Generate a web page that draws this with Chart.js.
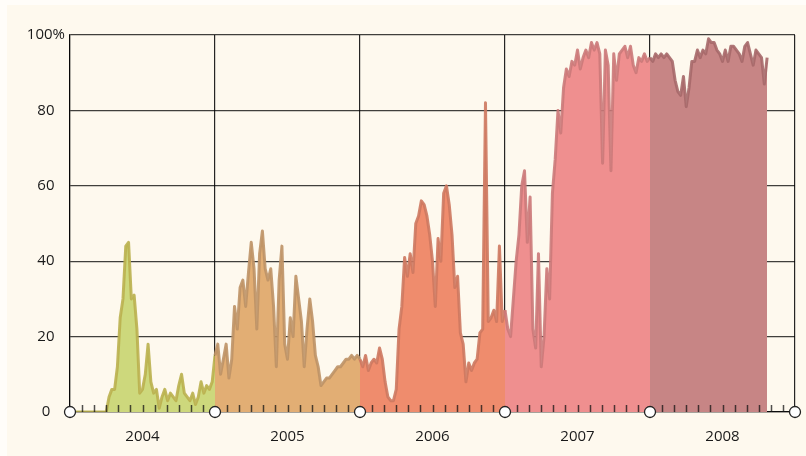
<!DOCTYPE html>
<html><head><meta charset="utf-8">
<script src="https://cdn.jsdelivr.net/npm/chart.js@4"></script>
<style>
html,body{margin:0;padding:0;background:#fffdf9;}
#card{position:absolute;left:7px;top:5px;width:799px;height:451px;background:#fef9ee;}
#wrap{position:absolute;left:0;top:0;width:806px;height:456px;}
</style></head><body>
<div id="card"></div>
<div id="wrap"><canvas id="c" width="806" height="456"></canvas></div>
<script>
// Weekly readings (% of share), one list per year
const years = [2004, 2005, 2006, 2007, 2008];
const yTickValues = [0, 20, 40, 60, 80, 100];
const v2004 = [0,0,0,0,0,0,0,0,0,0,0,0,0,0,4,6,6,12,25,30,44,45,30,31,22,5,6,10,18,8,5,6,1,4,6,3,5,4,3,7,10,5,4,3,5,2,4,8,5,7,6,8];
const v2005 = [15,18,10,14,18,9,14,28,22,33,35,28,37,45,38,22,42,48,38,35,38,28,12,35,44,18,14,25,20,36,30,24,12,22,30,24,15,12,7,8,9,9,10,11,12,12,13,14,14,15,14,15];
const v2006 = [14,12,15,11,13,14,13,17,14,8,4,3,3,6,22,28,41,36,42,37,50,52,56,55,52,47,40,28,46,40,58,60,55,47,33,36,21,18,8,13,11,13,14,21,22,82,24,25,27,24,44,24];
const v2007 = [27,22,20,30,40,47,60,64,45,57,22,17,42,12,20,38,30,58,67,80,74,86,91,89,93,92,96,91,94,96,94,98,96,98,95,66,96,92,64,95,88,95,96,97,94,97,92,90,94,93,95,93];
const v2008 = [94,93,95,94,95,94,95,94,93,88,85,84,89,81,86,93,93,96,94,96,95,99,98,98,96,95,93,96,93,97,97,96,95,93,97,98,95,92,96,95,94,87,94];
const seriesValues = [v2004, v2005, v2006, v2007, v2008];
const fillColors = ['#cdd87c', '#e2ae74', '#ef8c6d', '#ef8f8f', '#c78585'];
const lineColors = ['rgba(186,176,78,0.9)', 'rgba(190,146,102,0.9)', 'rgba(205,120,95,0.9)', 'rgba(203,121,121,0.9)', 'rgba(166,104,105,0.9)'];

function points(i) {
  const yr = years[i];
  const arr = seriesValues[i].map((v, k) => ({x: yr + k / 52, y: v}));
  if (i < seriesValues.length - 1) arr.push({x: yr + 1, y: seriesValues[i + 1][0]});
  return arr;
}

const datasets = years.map((yr, i) => ({
  label: String(yr),
  data: points(i),
  backgroundColor: fillColors[i],
  borderColor: lineColors[i],
  borderWidth: 3,
  borderJoinStyle: 'round',
  fill: 'origin',
  pointRadius: 0,
  tension: 0,
  order: 5 - i
}));

const xTickValues = years.flatMap(y => [y, y + 0.5]).concat([years[years.length - 1] + 1]);
const FONT = {family: 'Open Sans', size: 15};

const axisMarks = {
  id: 'axisMarks',
  afterDraw(chart) {
    const ctx = chart.ctx, xs = chart.scales.x, ys = chart.scales.y;
    const y0 = ys.getPixelForValue(0);
    ctx.save();
    ctx.strokeStyle = 'rgba(20,20,20,0.75)';
    ctx.lineWidth = 1.5;
    for (const yr of years) {
      for (let m = 1; m < 12; m++) {
        const px = Math.round(xs.getPixelForValue(yr + m / 12)) + 0.5;
        ctx.beginPath(); ctx.moveTo(px, y0); ctx.lineTo(px, y0 - 7); ctx.stroke();
      }
    }
    const bounds = years.concat([years[years.length - 1] + 1]);
    for (const yr of bounds) {
      const px = xs.getPixelForValue(yr);
      ctx.beginPath(); ctx.arc(px, y0, 5.5, 0, Math.PI * 2);
      ctx.fillStyle = '#ffffff'; ctx.fill();
      ctx.lineWidth = 1.3; ctx.strokeStyle = '#222'; ctx.stroke();
    }
    ctx.restore();
  }
};

new Chart(document.getElementById('c'), {
  type: 'line',
  data: {datasets},
  plugins: [axisMarks],
  options: {
    responsive: false,
    animation: false,
    layout: {padding: {top: 35, right: 11, bottom: 0, left: 0}},
    plugins: {legend: {display: false}, tooltip: {enabled: false}},
    scales: {
      x: {
        type: 'linear', min: 2004, max: 2009, z: 1,
        afterBuildTicks: s => { s.ticks = xTickValues.map(v => ({value: v})); },
        afterFit: s => { s.height = 44; s.paddingLeft = 0; s.paddingRight = 0; },
        grid: {drawTicks: false, lineWidth: 1.2,
          color: c => (c.tick && c.tick.value % 1 === 0) ? 'rgba(0,0,0,0.85)' : 'rgba(0,0,0,0)'},
        border: {display: true, color: 'rgba(0,0,0,0.8)', width: 1.2},
        ticks: {autoSkip: false, maxRotation: 0, padding: 16, font: FONT, color: '#1a1a1a',
          callback: v => (v % 1 === 0.5) ? String(v - 0.5) : ''}
      },
      y: {
        min: 0, max: 100, z: 1,
        afterBuildTicks: s => { s.ticks = yTickValues.map(v => ({value: v})); },
        afterFit: s => { s.width = 70; },
        grid: {drawTicks: false, lineWidth: 1.3, color: 'rgba(0,0,0,0.75)'},
        border: {display: true, color: 'rgba(0,0,0,0.8)', width: 1.2},
        ticks: {padding: 5, crossAlign: 'center', font: FONT, color: '#1a1a1a',
          callback: v => v === 100 ? '100%' : String(v)}
      }
    }
  }
});
</script>
</body></html>
